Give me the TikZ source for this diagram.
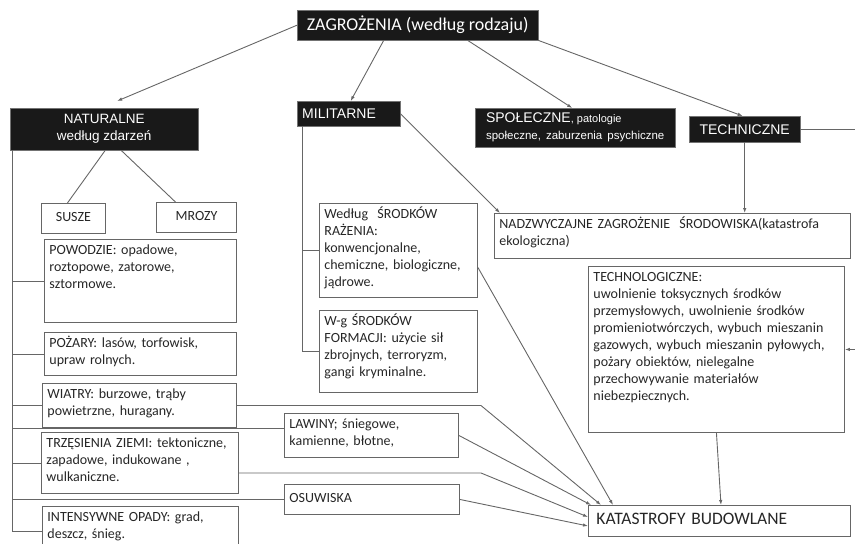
\documentclass[tikz,border=0pt]{standalone}
\usepackage{fontspec}
\setmainfont{Carlito}
\newfontfamily\arialfont{Liberation Sans}
\usetikzlibrary{arrows.meta}

\tikzset{
  line/.style={draw=black!60, line width=0.9pt},
  arr/.style={line, -{Latex[length=5pt,width=3.5pt]}},
  dark/.style={fill=black!90, draw=black!55, text=white, inner sep=0pt, anchor=north west, font=\arialfont\fontsize{14}{17}\selectfont},
  txtbox/.style={draw=black!60, line width=0.9pt, anchor=north west, align=left, inner xsep=5pt, inner ysep=5pt, text height=10pt, text depth=#1, text=black!85, font=\fontsize{14}{17}\selectfont},
  tag/.style={draw=black!60, line width=0.9pt, anchor=north west, inner sep=0pt, text height=10pt, text depth=3pt, text=black!85, font=\fontsize{14}{17}\selectfont},
}

\begin{document}
\begin{tikzpicture}[x=1pt, y=-1pt]
  \useasboundingbox (0,0) rectangle (855,544);
  \node[dark, minimum width=241pt, minimum height=30pt, font=\rmfamily\fontsize{18}{20}\selectfont] (zag) at (297,10) {ZAGROŻENIA (według rodzaju)};
  \node[dark, minimum width=188pt, minimum height=42pt, align=center, font=\arialfont\fontsize{13.5}{17}\selectfont] (nat) at (10,108) {NATURALNE\\ według zdarzeń};
  \node[dark, text width=93pt, inner xsep=5pt, minimum height=25pt, align=left] (mil) at (297,101) {MILITARNE};
  \node[dark, minimum width=200pt, minimum height=39pt, align=left] (spo) at (475,108) {SPOŁECZNE{\fontsize{11}{12}\selectfont, patologie}\\ {\fontsize{11.5}{12}\selectfont społeczne, \,zaburzenia \,psychiczne}};
  \node[dark, minimum width=111pt, minimum height=26pt] (tech) at (689,116) {TECHNICZNE};

  \node[tag, minimum width=64pt, minimum height=30pt] (susze) at (41,203) {SUSZE};
  \node[tag, minimum width=80pt, minimum height=30pt] (mrozy) at (156,202) {MROZY};
  \node[txtbox=63pt, text width=182pt] (powodzie) at (44,239) {POWODZIE: opadowe,\\ roztopowe, zatorowe,\\ sztormowe.};
  \node[txtbox=23pt, text width=182pt] (pozary) at (44,332) {POŻARY: lasów, torfowisk,\\ upraw rolnych.};
  \node[txtbox=24pt, text width=184pt] (wiatry) at (42,383) {WIATRY: burzowe, trąby\\ powietrzne, huragany.};
  \node[txtbox=41pt, text width=187pt] (trzes) at (41,432) {TRZĘSIENIA ZIEMI: tektoniczne,\\ zapadowe, indukowane ,\\ wulkaniczne.};
  \node[txtbox=30pt, text width=186pt] (intens) at (42,506) {INTENSYWNE OPADY: grad,\\ deszcz, śnieg.};

  \node[txtbox=74pt, text width=148pt] (wedlug) at (319,203) {Według \ ŚRODKÓW\\ RAŻENIA:\\ konwencjonalne,\\ chemiczne, biologiczne,\\ jądrowe.};
  \node[txtbox=62pt, text width=148pt] (wg) at (319,310) {W-g ŚRODKÓW\\ FORMACJI: użycie sił\\ zbrojnych, terroryzm,\\ gangi kryminalne.};
  \node[txtbox=24pt, text width=164pt] (lawiny) at (284,413) {LAWINY; śniegowe,\\ kamienne, błotne,};
  \node[tag, text width=165pt, align=left, inner xsep=5pt, minimum height=30pt] (osuw) at (284,484) {OSUWISKA};

  \node[txtbox=25pt, text width=346pt] (nadz) at (494,213) {NADZWYCZAJNE ZAGROŻENIE \ ŚRODOWISKA(katastrofa\\ ekologiczna)};
  \node[txtbox=146pt, text width=246pt] (techno) at (588,266) {TECHNOLOGICZNE:\\ uwolnienie toksycznych środków\\ przemysłowych, uwolnienie środków\\ promieniotwórczych, wybuch mieszanin\\ gazowych, wybuch mieszanin pyłowych,\\ pożary obiektów, nielegalne\\ przechowywanie materiałów\\ niebezpiecznych.};
  \node[tag, text width=246pt, align=left, inner xsep=8pt, minimum height=31pt, font=\fontsize{17.5}{20}\selectfont] (kat) at (588,505) {KATASTROFY BUDOWLANE};

  \draw[arr] (zag.west) -- ([xshift=13pt,yshift=7pt]nat.north);
  \draw[arr] ([xshift=-34pt]zag.south) -- ([xshift=2pt]mil.north);
  \draw[arr] ([xshift=50pt]zag.south) -- ([xshift=-3pt]spo.north);
  \draw[arr] (zag.south east) -- ([xshift=-2pt]tech.north);

  \draw[line] ([xshift=1pt]nat.south) -- ([xshift=-6pt]susze.north);
  \draw[line] ([xshift=17pt]nat.south) -- ([xshift=-21pt]mrozy.north);

  \draw[line] ([xshift=2pt]nat.south west) coordinate (sp) |- (intens.west);
  \draw[line] (sp |- powodzie.west) -- (powodzie.west);
  \draw[line] (sp |- pozary.west) -- (pozary.west);
  \draw[line] (sp |- wiatry.west) -- (wiatry.west);
  \draw[line] (sp |- trzes.west) -- (trzes.west);
  \coordinate (lw) at ([yshift=7pt]lawiny.west);
  \draw[line] (sp |- lw) -- (lw);
  \draw[line] (sp |- osuw.west) -- (osuw.west);

  \draw[line] ([xshift=5pt]mil.south west) coordinate (ms) |- (wg.west);
  \draw[line] (ms |- wedlug.west) -- (wedlug.west);
  \draw[arr] (mil.east) -- ([xshift=6pt]nadz.north west);

  \draw[arr] (tech.south) -- (tech.south |- nadz.north);
  \draw[arr] (tech.east) -- ++(70,0) |- (techno.east);

  \coordinate (te) at ([yshift=-10pt]trzes.east);
  \coordinate (we) at ([yshift=-17pt]wedlug.east);
  \draw[arr] (wiatry.east) -- ++(244,0) -- ([xshift=13pt]kat.north west);
  \draw[arr] (lawiny.east) -- ([xshift=3pt]kat.north west);
  \draw[arr] (we) -- ([xshift=25pt]kat.north west);
  \draw[arr] (te) -- ++(242,0) -- ([yshift=-12pt]kat.north west);
  \draw[arr] (osuw.east) -- ([yshift=-21pt]kat.north west);
  \draw[arr] (techno.south) -- ([xshift=133pt]kat.north west);
\end{tikzpicture}
\end{document}
